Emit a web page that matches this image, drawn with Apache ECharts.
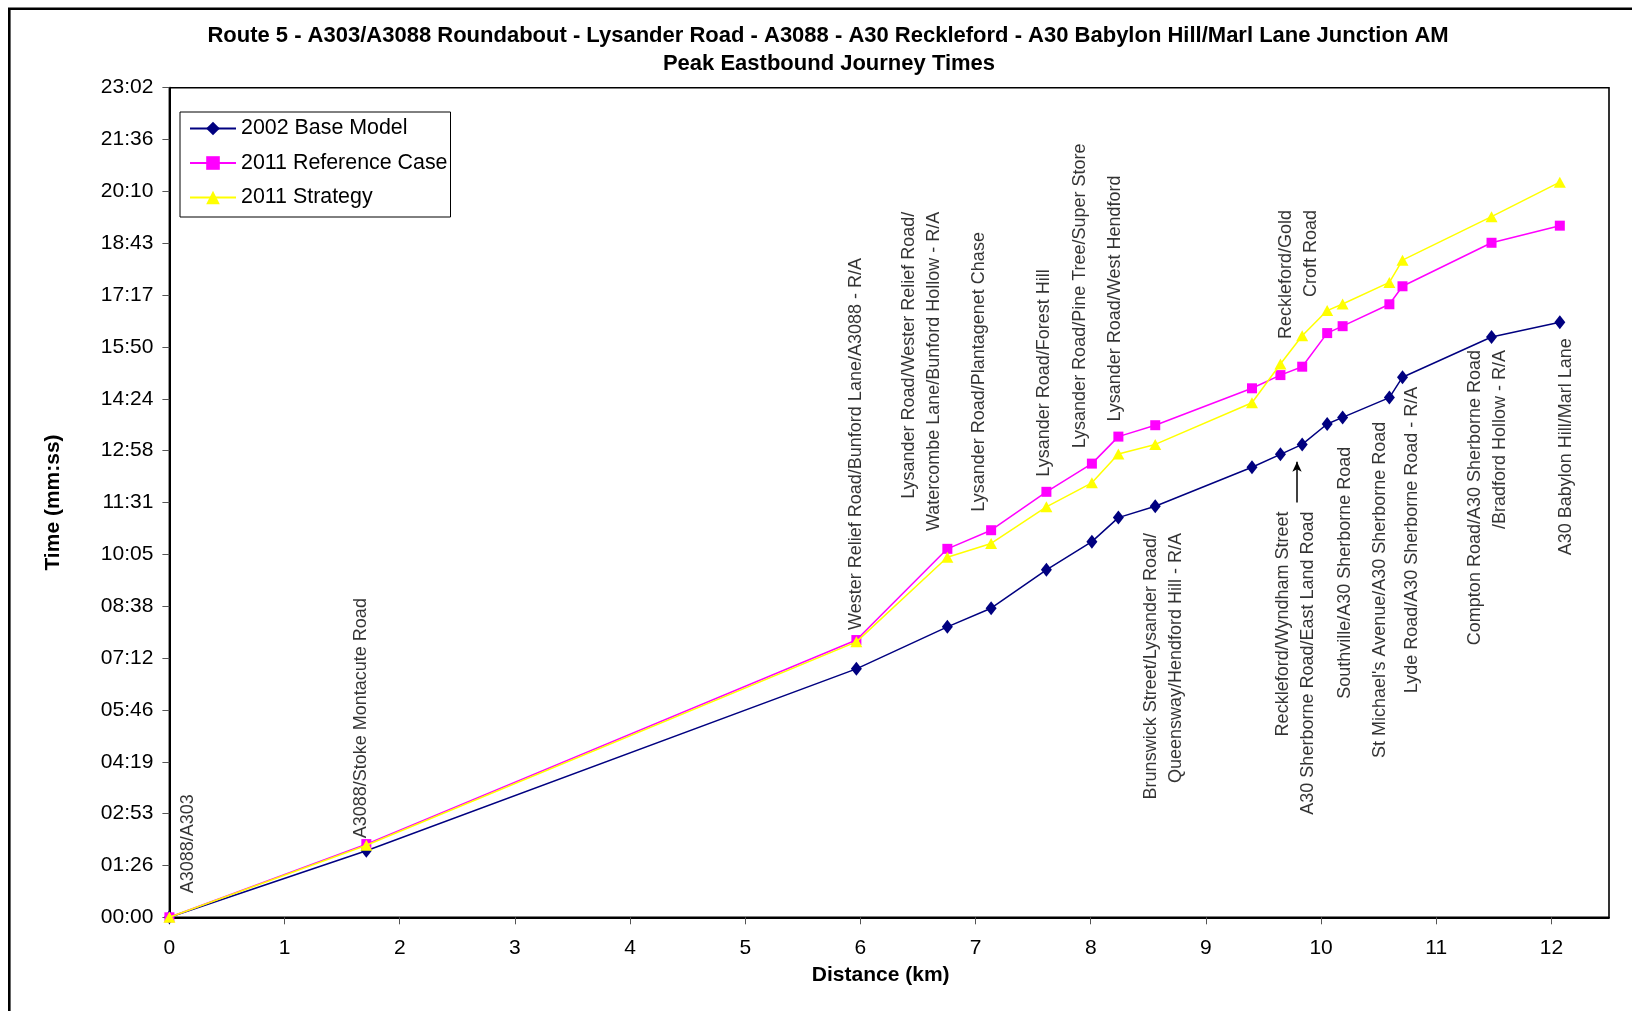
<!DOCTYPE html>
<html>
<head>
<meta charset="utf-8">
<script src="https://cdn.jsdelivr.net/npm/echarts@6/dist/echarts.min.js"></script>
<style>
html,body{margin:0;padding:0;background:#fff;}
#chart{width:1632px;height:1011px;}
</style>
</head>
<body>
<div id="chart"></div>
<script>
// ---------- data ----------
const distanceKm = [0, 1.71, 5.965, 6.755, 7.135, 7.615, 8.01, 8.24, 8.56, 9.40, 9.647, 9.836, 10.053, 10.187, 10.593, 10.707, 11.48, 12.073];
// journey times in seconds
const base2002 = [0, 111, 414, 484, 515, 579, 626, 666, 685, 750, 771.5, 788, 822, 833, 866, 900, 967, 991.5];
const reference2011 = [0, 122, 462, 614, 645, 709, 756, 801, 820, 881.5, 903.5, 917.5, 973.5, 985, 1021.5, 1051.5, 1124, 1152.5];
const strategy2011 = [0, 120, 459, 600, 623, 684, 724, 772, 788, 857.5, 922, 969, 1011, 1022, 1058, 1095, 1167.5, 1225];
const seriesNames = ['2002 Base Model', '2011 Reference Case', '2011 Strategy'];

const yTickLabels = ['00:00','01:26','02:53','04:19','05:46','07:12','08:38','10:05','11:31','12:58','14:24','15:50','17:17','18:43','20:10','21:36','23:02'];
const xTickLabels = ['0','1','2','3','4','5','6','7','8','9','10','11','12'];

const titleLines = ['Route 5 - A303/A3088 Roundabout - Lysander Road - A3088 - A30 Reckleford - A30 Babylon Hill/Marl Lane Junction AM', 'Peak Eastbound Journey Times'];

// junction annotations
const junctionText = [
  'A3088/A303',
  'A3088/Stoke Montacute Road',
  'Wester Relief Road/Bunford Lane/A3088 - R/A',
  'Lysander Road/Wester Relief Road/\nWatercombe Lane/Bunford Hollow - R/A',
  'Lysander Road/Plantagenet Chase',
  'Lysander Road/Forest Hill',
  'Lysander Road/Pine Tree/Super Store',
  'Lysander Road/West Hendford',
  'Brunswick Street/Lysander Road/\nQueensway/Hendford Hill - R/A',
  'Reckleford/Wyndham Street\nA30 Sherborne Road/East Land Road',
  'Reckleford/Gold\nCroft Road',
  'Southville/A30 Sherborne Road',
  "St Michael's Avenue/A30 Sherborne Road",
  'Lyde Road/A30 Sherborne Road - R/A',
  'Compton Road/A30 Sherborne Road\n/Bradford Hollow - R/A',
  'A30 Babylon Hill/Marl Lane'
];
// anchor of each annotation (km, seconds) and which end of the text sits on the anchor
const junctionAnchorKm  = [0.164, 1.662, 5.966, 6.527, 7.030, 7.592, 7.905, 8.209, 8.633, 9.782, 9.807, 10.205, 10.509, 10.791, 11.449, 12.129];
const junctionAnchorSec = [40.0, 131.6, 478.8, 1175.8, 675.9, 734.2, 781.5, 825.9, 640.4, 676.2, 1178.6, 784.2, 825.9, 884.2, 945.3, 964.8];
const junctionAnchorEnd = ['left','left','left','right','left','left','left','left','right','right','right','right','right','right','right','right'];
// arrow pointing at the Reckleford/Wyndham Street junction
const arrowKm = 9.791, arrowFromSec = 691, arrowToSec = 759;

// ---------- chart ----------
const FONT = "'Liberation Sans', Arial, Helvetica, sans-serif";
const yStep = 86.4;
const chart = echarts.init(document.getElementById('chart'), null, {renderer: 'canvas'});

function pairs(ys) { return distanceKm.map((x, i) => [x, ys[i]]); }

const seriesStyle = [
  {color: '#000080', symbol: 'diamond', size: [11, 14]},
  {color: '#FF00FF', symbol: 'rect', size: 10},
  {color: '#FFFF00', symbol: 'triangle', size: [12, 11]}
];
const seriesData = [base2002, reference2011, strategy2011];

const series = seriesNames.map((name, i) => ({
  name: name,
  type: 'line',
  data: pairs(seriesData[i]),
  symbol: seriesStyle[i].symbol,
  symbolSize: seriesStyle[i].size,
  showAllSymbol: true,
  lineStyle: {color: seriesStyle[i].color, width: 1.5},
  itemStyle: {color: seriesStyle[i].color},
  emphasis: {disabled: true},
  animation: false,
  z: 3 + i
}));

series.push({
  name: 'junctions',
  type: 'scatter',
  symbolSize: 0.1,
  itemStyle: {color: 'rgba(0,0,0,0)'},
  silent: true,
  animation: false,
  z: 10,
  data: junctionText.map((t, i) => ({
    value: [junctionAnchorKm[i], junctionAnchorSec[i]],
    label: {
      show: true,
      formatter: t,
      position: [0, 0],
      rotate: 90,
      align: junctionAnchorEnd[i],
      verticalAlign: 'middle',
      fontFamily: FONT,
      fontSize: 18,
      lineHeight: 25,
      color: '#000'
    }
  })),
  markLine: {
    silent: true,
    animation: false,
    symbol: ['none', 'arrow'],
    symbolSize: [7, 10],
    label: {show: false},
    lineStyle: {color: '#000', width: 1.5, type: 'solid'},
    data: [[{coord: [arrowKm, arrowFromSec]}, {coord: [arrowKm, arrowToSec]}]]
  }
});

const option = {
  backgroundColor: '#ffffff',
  animation: false,
  textStyle: {fontFamily: FONT},
  graphic: [
    {type: 'rect', silent: true, z: -1,
     shape: {x: 9.3, y: 8.7, width: 1700, height: 1100},
     style: {fill: 'none', stroke: '#000', lineWidth: 2.6}},
    {type: 'text', silent: true, x: 828, y: 36,
     style: {text: titleLines[0], font: 'bold 22px ' + FONT, fill: '#000', align: 'center', verticalAlign: 'middle'}},
    {type: 'text', silent: true, x: 829, y: 63.5,
     style: {text: titleLines[1], font: 'bold 22px ' + FONT, fill: '#000', align: 'center', verticalAlign: 'middle'}}
  ],
  legend: {
    data: seriesNames,
    orient: 'vertical',
    left: 180,
    top: 112,
    padding: [6, 3, 9, 9],
    itemGap: 13.5,
    itemWidth: 46,
    itemHeight: 17,
    borderColor: '#000',
    borderWidth: 1,
    backgroundColor: '#fff',
    selectedMode: false,
    textStyle: {fontFamily: FONT, fontSize: 21.4, color: '#000'}
  },
  grid: {
    left: 169.4, right: 23, top: 87.7, bottom: 93.7,
    show: true, borderColor: '#000', borderWidth: 1.6, backgroundColor: 'transparent'
  },
  xAxis: {
    type: 'value',
    min: 0, max: 12.5,
    name: 'Distance (km)',
    nameLocation: 'middle',
    nameGap: 47,
    nameTextStyle: {fontFamily: FONT, fontSize: 21, fontWeight: 'bold', color: '#000', padding: [0, 17, 0, 0]},
    axisLine: {show: true, onZero: false, lineStyle: {color: '#000', width: 1.8}},
    axisTick: {show: true, length: 7, customValues: xTickLabels.map(Number), lineStyle: {color: '#555', width: 1}},
    axisLabel: {
      customValues: xTickLabels.map(Number),
      formatter: (v) => xTickLabels[Math.round(v)],
      fontFamily: FONT, fontSize: 21, color: '#000', margin: 20
    },
    splitLine: {show: false}
  },
  yAxis: {
    type: 'value',
    min: 0, max: yStep * 16, interval: yStep,
    name: 'Time (mm:ss)',
    nameLocation: 'middle',
    nameGap: 106,
    nameTextStyle: {fontFamily: FONT, fontSize: 21, fontWeight: 'bold', color: '#000'},
    axisLine: {show: true, onZero: false, lineStyle: {color: '#000', width: 2}},
    axisTick: {show: true, length: 7, lineStyle: {color: '#555', width: 1}},
    axisLabel: {
      formatter: (v) => yTickLabels[Math.round(v / yStep)],
      fontFamily: FONT, fontSize: 21, color: '#000', margin: 16
    },
    splitLine: {show: false}
  },
  tooltip: {show: false},
  series: series
};

chart.setOption(option);
</script>
</body>
</html>
